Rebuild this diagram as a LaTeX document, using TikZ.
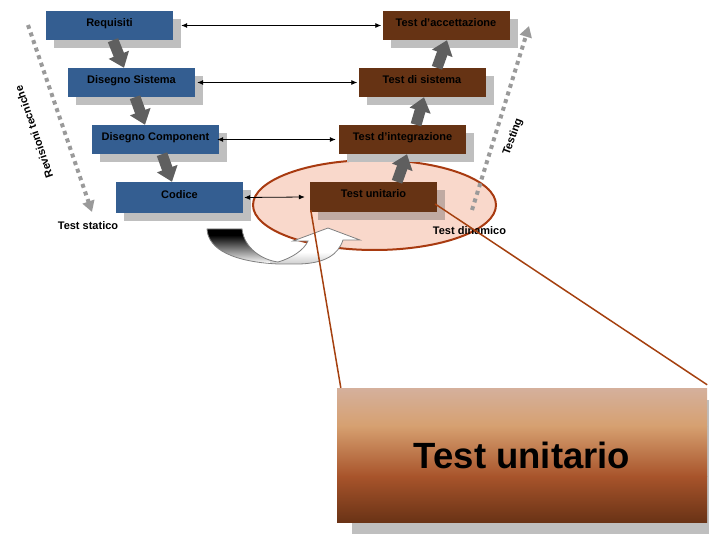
\documentclass[tikz,border=0pt]{standalone}
\usepackage{fontspec}
\setmainfont{Liberation Sans}
\usetikzlibrary{arrows.meta,shapes.geometric,shadows}
\definecolor{vblue}{RGB}{52,94,145}
\definecolor{vbrown}{RGB}{102,51,20}
\definecolor{shgray}{RGB}{191,191,191}
\definecolor{tushadow}{RGB}{192,170,162}
\definecolor{ellfill}{RGB}{249,216,203}
\definecolor{ellred}{RGB}{168,58,16}
\definecolor{zoomred}{RGB}{165,64,15}
\definecolor{dotgray}{RGB}{154,154,154}
\definecolor{arrgray}{RGB}{95,95,95}
\definecolor{gA}{RGB}{213,176,156}
\definecolor{gB}{RGB}{214,160,112}
\definecolor{gC}{RGB}{168,84,43}
\definecolor{gD}{RGB}{106,51,22}
\begin{document}
\begin{tikzpicture}[x=1pt,y=-1pt,
  lbl/.style={font=\fontsize{11}{12}\selectfont\bfseries, inner sep=0pt},
  vboxbase/.style={lbl, minimum width=127pt, minimum height=29pt, text height=8pt, text depth=6pt},
  vbox/.style={vboxbase, general shadow={fill=shgray, shadow xshift=8pt, shadow yshift=-8pt}},
  bluebox/.style={vbox, fill=vblue},
  brownbox/.style={vbox, fill=vbrown},
  blockarrow/.style={draw=arrgray, line width=11pt, -{Triangle[width=21pt,length=14pt,fill=arrgray]}},
  link/.style={line width=0.8pt, {Latex[length=6pt,width=5pt]}-{Latex[length=6pt,width=5pt]}},
  dots/.style={draw=dotgray, line width=4pt, dash pattern=on 4pt off 4pt, -{Triangle[width=12pt,length=11pt,fill=dotgray]}},
  zoomline/.style={draw=zoomred, line width=1.5pt}]
\useasboundingbox (0,0) rectangle (709,534);

% ellipse highlighting unit test
\node[ellipse, draw=ellred, fill=ellfill, line width=2pt, minimum width=243pt, minimum height=90pt, inner sep=0pt] (ell) at (374.5,205) {};

% left side (blue)
\node[bluebox] (req) at (109.5,25.5) {Requisiti};
\node[bluebox] (ds) at (131.5,82.5) {Disegno Sistema};
\node[bluebox] (dc) at (155.5,139.5) {Disegno Component};
\node[bluebox, minimum height=31pt] (cod) at (179.5,197.5) {Codice};

% right side (brown)
\node[brownbox] (ta) at (446,25.5) {Test d'accettazione};
\node[brownbox] (ts) at (422,82.5) {Test di sistema};
\node[brownbox] (ti) at (402.5,139.5) {Test d'integrazione};
\node[vboxbase, fill=vbrown, minimum height=30pt, general shadow={fill=tushadow, shadow xshift=8pt, shadow yshift=-8pt}] (tu) at (373.5,197) {Test unitario};

% block arrows
\draw[blockarrow] ([xshift=3.5pt]req.south) -- ([xshift=-7.5pt]ds.north);
\draw[blockarrow] ([xshift=3.5pt]ds.south) -- ([xshift=-10.5pt]dc.north);
\draw[blockarrow] ([xshift=6.5pt]dc.south) -- ([xshift=-7.5pt]cod.north);
\draw[blockarrow] ([xshift=23.5pt]tu.north) -- ([xshift=4.5pt]ti.south);
\draw[blockarrow] ([xshift=13.5pt]ti.north) -- ([xshift=2pt]ts.south);
\draw[blockarrow] ([xshift=15pt]ts.north) -- ([xshift=1pt]ta.south);

% horizontal links
\draw[link] ([xshift=8pt]req.east) -- ([xshift=-1pt]ta.west);
\draw[link] ([xshift=2pt]ds.east) -- ([xshift=-1pt]ts.west);
\draw[link] ([xshift=-2pt]dc.east) -- ([xshift=-3pt]ti.west);
\draw[link] ([xshift=1pt]cod.east) -- ([xshift=-5pt]tu.west);

% dotted arrows
\coordinate (d1s) at (28,25);
\coordinate (d1e) at (92,212);
\draw[dots] (d1s) -- (d1e);
\coordinate (d2s) at (472,210);
\coordinate (d2e) at (529,26);
\draw[dots] (d2s) -- (d2e);
\node[lbl, rotate=109] (rev) at (34,132) {Revisioni tecniche};
\node[lbl, rotate=70] (testing) at (513,137) {Testing};
\node[lbl] (tstat) at (88,226) {Test statico};
\node[lbl] (tdin) at (469.5,231) {Test dinamico};

% curved arrow
\def\uarrowpath{(207,229) -- (242,229) .. controls (244,248) and (262,260) .. (278,262)
  .. controls (292,258) and (304,250) .. (308,241) -- (293,241) -- (328,228) -- (360,240)
  -- (343,240) .. controls (338,255) and (325,263) .. (300,264) -- (278,264)
  .. controls (235,262) and (208,250) .. (207,229) -- cycle}
\fill[white] \uarrowpath;
\begin{scope}
  \clip \uarrowpath;
  \fill[black] (200,226) rectangle (292,235);
  \shade[top color=black, bottom color=gray!10] (200,235) rectangle (292,262);
  \shade[top color=white, bottom color=gray!45] (270,252) rectangle (340,266);
\end{scope}
\draw[gray, line width=0.8pt] \uarrowpath;

% enlarged box
\node[minimum width=370pt, minimum height=134pt, inner sep=0pt] (big) at (522,455) {};
\fill[shgray] ([shift={(15pt,-12pt)}]big.south west) rectangle ([shift={(15pt,-12pt)}]big.north east);
\shade[top color=gA, bottom color=gB] (337,388) rectangle (707,426.5);
\shade[top color=gB, bottom color=gC] (337,426) rectangle (707,476.5);
\shade[top color=gC, bottom color=gD] (337,476) rectangle (707,522);
\node[font=\fontsize{36.5}{40}\selectfont\bfseries, inner sep=0pt] (bigtxt) at (big.center) {Test unitario};

% zoom lines
\draw[zoomline] ([shift={(1pt,2pt)}]tu.south west) -- ([xshift=4pt]big.north west);
\draw[zoomline] ([shift={(-2pt,-7pt)}]tu.east) -- ([yshift=3pt]big.north east);
\end{tikzpicture}
\end{document}
